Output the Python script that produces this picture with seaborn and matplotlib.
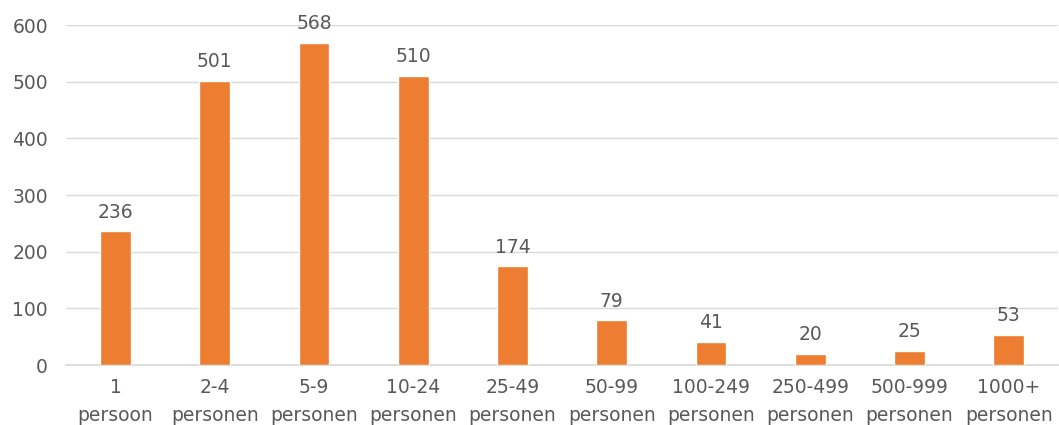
import pandas as pd
import matplotlib
matplotlib.use('Agg')
import matplotlib.pyplot as plt
import seaborn as sns

# Data
categories = ['1\npersoon', '2-4\npersonen', '5-9\npersonen', '10-24\npersonen',
              '25-49\npersonen', '50-99\npersonen', '100-249\npersonen',
              '250-499\npersonen', '500-999\npersonen', '1000+\npersonen']
counts = [236, 501, 568, 510, 174, 79, 41, 20, 25, 53]

df = pd.DataFrame({'Categorie': categories, 'Aantal': counts})

sns.set_theme(style='white')
plt.rcParams['font.family'] = ['DejaVu Sans']

text_color = '#595959'
fs = 13.5

fig = plt.figure(figsize=(10.59, 4.25), dpi=100)
ax = fig.add_axes([0.0623, 0.141, 0.937, 0.80])

sns.barplot(x='Categorie', y='Aantal', data=df, color='#ED7D31',
            width=0.31, saturation=1, ax=ax, zorder=3)

ax.set_ylim(0, 600)
ax.set_yticks(range(0, 601, 100))
ax.set_xlim(-0.5, len(categories) - 0.5)
ax.grid(axis='y', color='#D9D9D9', linewidth=1, zorder=0)
ax.set_axisbelow(True)

for side in ['top', 'right', 'left']:
    ax.spines[side].set_visible(False)
ax.spines['bottom'].set_color('#D9D9D9')

for container in ax.containers:
    ax.bar_label(container, padding=7, fontsize=fs, color=text_color)

ax.tick_params(axis='both', length=0, labelsize=fs, labelcolor=text_color)
ax.tick_params(axis='x', pad=9)
ax.tick_params(axis='y', pad=13)
for lbl in ax.get_xticklabels():
    lbl.set_linespacing(1.6)
ax.set_xlabel('')
ax.set_ylabel('')

plt.savefig('out.png', dpi=100)
